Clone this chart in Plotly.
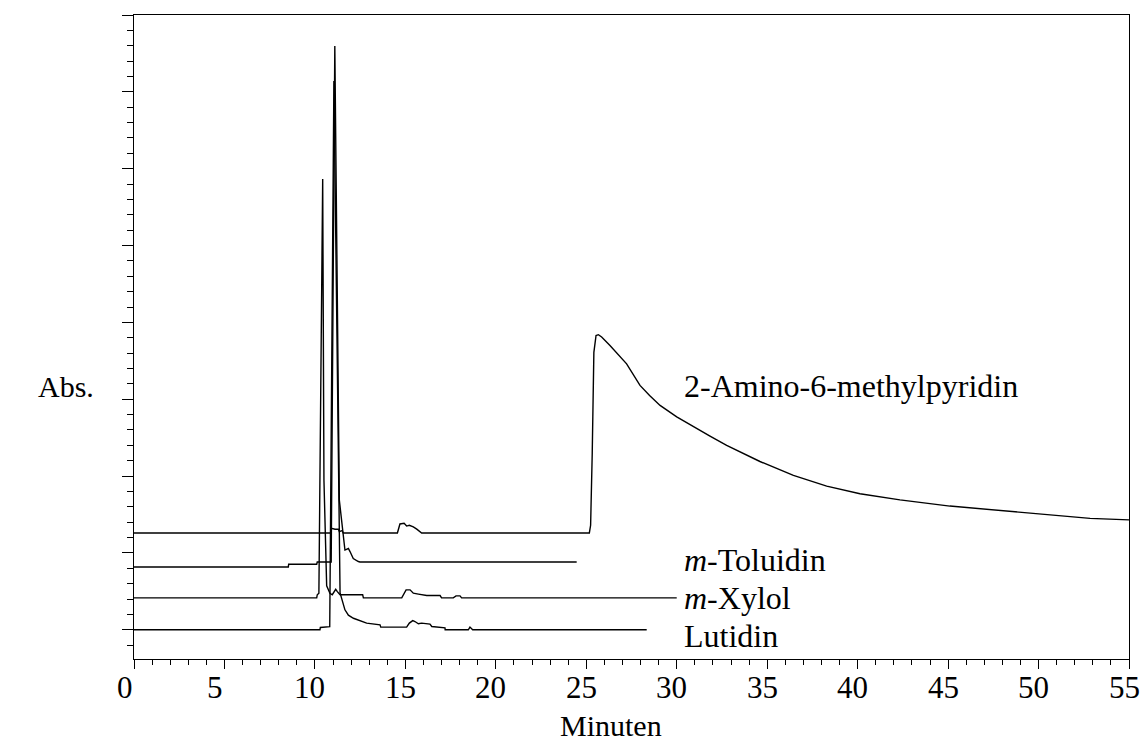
import plotly.graph_objects as go

# ---- data (time in minutes, signal in arbitrary absorbance units above each baseline) ----
lutidin_t = [0, 10.28, 10.3, 10.82, 11.05, 11.39, 11.66, 11.85, 12.13, 12.49, 12.86, 13.6, 13.64,
             15.07, 15.22, 15.41, 15.53, 15.72, 15.9, 16.36, 16.46, 17.19, 17.2, 18.48, 18.57, 18.72, 28.34]
lutidin_v = [0, 0, 0.03, 0.04, 7.14, 0.48, 0.26, 0.19, 0.15, 0.12, 0.087, 0.065, 0.035,
             0.035, 0.087, 0.12, 0.108, 0.078, 0.087, 0.074, 0.043, 0.026, 0, 0, 0.035, 0, 0]

toluidin_t = [0, 8.53, 8.55, 10.1, 10.13, 10.9, 11.1, 11.35, 11.66, 11.85, 11.94, 12.12, 12.4, 12.49, 24.47]
toluidin_v = [0, 0, 0.035, 0.035, 0.065, 0.065, 6.78, 0.87, 0.22, 0.24, 0.2, 0.11, 0.07, 0.065, 0.065]

xylol_t = [0, 10.1, 10.13, 10.22, 10.43, 10.5, 10.65, 10.83, 10.96, 11.15, 11.24, 11.39, 12.64, 12.68,
           14.8, 15.04, 15.26, 15.44, 15.72, 16.18, 16.92, 17.0, 17.65, 17.8, 18.02, 18.11, 30.0]
xylol_v = [0, 0, 0.04, 0.06, 5.45, 1.53, 0.156, 0.06, 0.04, 0.11, 0.08, 0.04, 0.04, 0,
           0, 0.104, 0.104, 0.06, 0.048, 0.03, 0.03, 0, 0, 0.026, 0.026, 0, 0]

amino_t = [0, 10.88, 10.92, 11.11, 11.3, 11.35, 11.5, 11.57, 14.56, 14.7, 14.93, 15.07, 15.22, 15.44,
           15.63, 15.81, 15.9, 25.17, 25.24, 25.33, 25.42, 25.54, 25.67, 25.85, 26.31, 27.23, 27.97,
           28.5, 29.08, 30.0, 30.92, 31.84, 32.76, 34.6, 36.45, 38.29, 40.13, 42.34, 45.1, 47.87,
           50.6, 52.85, 55.0]
amino_v = [0, 0, 0.06, 0.048, 0.048, 0.017, 0.03, 0, 0, 0.117, 0.125, 0.09, 0.1, 0.08,
           0.05, 0.017, 0, 0, 0.1, 1.04, 2.35, 2.57, 2.58, 2.55, 2.44, 2.2, 1.92,
           1.79, 1.66, 1.51, 1.38, 1.26, 1.14, 0.93, 0.75, 0.61, 0.51, 0.43, 0.35, 0.29,
           0.23, 0.19, 0.17]

series_names = ["Lutidin", "m-Xylol", "m-Toluidin", "2-Amino-6-methylpyridin"]
series_offsets = [0.0, 0.416, 0.818, 1.26]
series_labels = ["Lutidin", "<i>m</i>-Xylol", "<i>m</i>-Toluidin", "2-Amino-6-methylpyridin"]
label_y = [-0.08, 0.42, 0.91, 3.17]
label_x = 30.3

x_ticks = [0, 5, 10, 15, 20, 25, 30, 35, 40, 45, 50, 55]

series_t = [lutidin_t, xylol_t, toluidin_t, amino_t]
series_v = [lutidin_v, xylol_v, toluidin_v, amino_v]

FONT = "Liberation Serif, Times New Roman, serif"

fig = go.Figure()
for name, t, v, off in zip(series_names, series_t, series_v, series_offsets):
    fig.add_trace(go.Scatter(
        x=t, y=[val + off for val in v], mode="lines", name=name,
        line=dict(color="black", width=1.4), showlegend=False, hoverinfo="skip"))

for txt, ly in zip(series_labels, label_y):
    fig.add_annotation(x=label_x, y=ly, xref="x", yref="y", text=txt, showarrow=False,
                       xanchor="left", yanchor="middle",
                       font=dict(family=FONT, size=32, color="black"))

# x tick labels (placed as text just under the axis, slightly left of each tick as in the original)
for tv in x_ticks:
    fig.add_annotation(x=tv, y=-0.045, xref="x", yref="paper", text=str(tv), showarrow=False,
                       xanchor="center", yanchor="middle", xshift=(-9 if tv < 10 else -5),
                       font=dict(family=FONT, size=31, color="black"))

fig.add_annotation(x=-0.068, y=0.423, xref="paper", yref="paper", text="Abs.", showarrow=False,
                   xanchor="center", yanchor="middle", font=dict(family=FONT, size=30, color="black"))
fig.add_annotation(x=0.479, y=-0.104, xref="paper", yref="paper", text="Minuten", showarrow=False,
                   xanchor="center", yanchor="middle", font=dict(family=FONT, size=30, color="black"))

fig.update_layout(
    width=1141, height=743,
    margin=dict(l=134, r=12, t=15, b=84),
    paper_bgcolor="white", plot_bgcolor="white",
    xaxis=dict(range=[0, 55], tickvals=x_ticks, showticklabels=False,
               showgrid=False, zeroline=False,
               showline=True, linecolor="black", linewidth=1.3, mirror=True,
               ticks="outside", ticklen=9, tickwidth=1.2, tickcolor="black",
               minor=dict(dtick=1, tick0=0, ticks="outside", ticklen=4.5, tickwidth=1, tickcolor="black", showgrid=False)),
    yaxis=dict(range=[-0.38, 8.0], tick0=0, dtick=1, showticklabels=False,
               showgrid=False, zeroline=False,
               showline=True, linecolor="black", linewidth=1.3, mirror=True,
               ticks="outside", ticklen=11, tickwidth=1.2, tickcolor="black",
               minor=dict(dtick=0.2, tick0=0, ticks="outside", ticklen=5.5, tickwidth=1, tickcolor="black", showgrid=False)),
)

fig.write_html("out.html", config={"displayModeBar": False},
               post_script="document.body.style.margin='0';document.body.style.overflow='hidden';")
